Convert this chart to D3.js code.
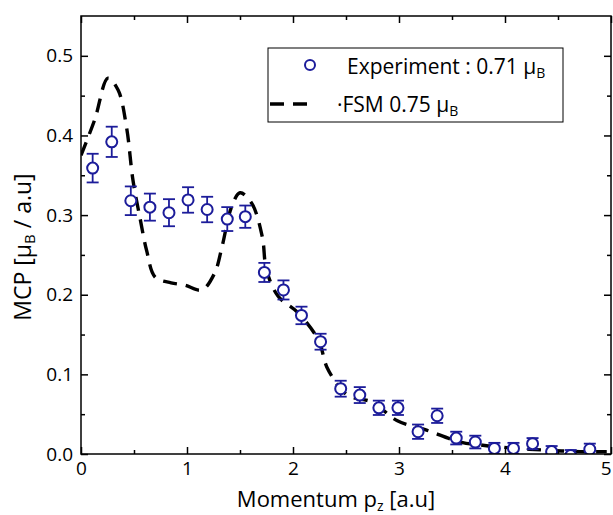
<!DOCTYPE html>
<html><head><meta charset="utf-8">
<script src="https://cdn.jsdelivr.net/npm/d3@7"></script>
<style>body{margin:0;background:#fff}svg{display:block}text{font-family:"Open Sans",sans-serif;fill:#000}</style>
</head><body><svg id="c" width="613" height="515"></svg>
<script>
const expX = [0.11,0.29,0.47,0.65,0.83,1.01,1.19,1.38,1.55,1.73,1.91,2.08,2.26,2.45,2.63,2.81,2.99,3.18,3.36,3.54,3.72,3.90,4.08,4.26,4.44,4.62,4.80];
const expY = [0.359,0.392,0.318,0.310,0.303,0.319,0.307,0.295,0.298,0.228,0.206,0.174,0.141,0.082,0.074,0.058,0.058,0.028,0.048,0.020,0.015,0.007,0.007,0.013,0.003,-0.002,0.006];
const expErr = [0.018,0.019,0.018,0.017,0.017,0.016,0.016,0.015,0.014,0.012,0.012,0.011,0.010,0.010,0.010,0.009,0.009,0.009,0.009,0.008,0.008,0.007,0.007,0.007,0.007,0.007,0.007];
const fsmX = [0.0,0.13,0.255,0.35,0.43,0.49,0.56,0.62,0.70,0.85,0.98,1.14,1.26,1.33,1.42,1.50,1.61,1.71,1.75,1.86,2.05,2.24,2.32,2.45,2.54,2.75,2.98,3.26,3.58,3.79,4.11,4.36,4.71,4.96];
const fsmY = [0.375,0.42,0.472,0.457,0.41,0.344,0.294,0.255,0.222,0.215,0.212,0.206,0.227,0.26,0.31,0.328,0.315,0.273,0.231,0.198,0.177,0.143,0.109,0.082,0.072,0.065,0.042,0.030,0.015,0.011,0.007,0.005,0.003,0.003];
const xTicks = [0,1,2,3,4,5];
const yTicks = [0.0,0.1,0.2,0.3,0.4,0.5];
const xMinor = [0.5,1.5,2.5,3.5,4.5];
const yMinor = [0.05,0.15,0.25,0.35,0.45];

const L=81,R=611,T=16,B=454;
const x=d3.scaleLinear().domain([0,5]).range([L,R]);
const y=d3.scaleLinear().domain([0,0.55]).range([B,T]);
const svg=d3.select("#c");
const blue="#1c1c9a";

const defs=svg.append("defs");
defs.append("clipPath").attr("id","clip").append("rect").attr("x",L).attr("y",T).attr("width",R-L).attr("height",B-T);

// FSM line
svg.append("path").datum(fsmX.map((v,i)=>[v,fsmY[i]]))
  .attr("clip-path","url(#clip)")
  .attr("d",d3.line().x(d=>x(d[0])).y(d=>y(d[1])).curve(d3.curveCatmullRom))
  .attr("fill","none").attr("stroke","#000").attr("stroke-width",3.4).attr("stroke-dasharray","14,9");

// error bars & points
const g=svg.append("g").attr("clip-path","url(#clip)");
expX.forEach((v,i)=>{
  const cx=x(v), y1=y(expY[i]+expErr[i]), y0=y(expY[i]-expErr[i]);
  g.append("line").attr("x1",cx).attr("x2",cx).attr("y1",y1).attr("y2",y0).attr("stroke",blue).attr("stroke-width",1.8);
  [y1,y0].forEach(yy=>g.append("line").attr("x1",cx-6).attr("x2",cx+6).attr("y1",yy).attr("y2",yy).attr("stroke",blue).attr("stroke-width",1.8));
  g.append("circle").attr("cx",cx).attr("cy",y(expY[i])).attr("r",5.5).attr("fill","#fff").attr("stroke",blue).attr("stroke-width",2);
});

// frame
svg.append("rect").attr("x",L).attr("y",T).attr("width",R-L).attr("height",B-T).attr("fill","none").attr("stroke","#000").attr("stroke-width",1.5);

// axes
const fs="19px";
const ax=svg.append("g").attr("transform",`translate(0,${B})`).call(d3.axisBottom(x).tickValues(xTicks).tickFormat(d3.format("d")).tickSizeInner(-7).tickSizeOuter(0).tickPadding(8));
const axm=svg.append("g").attr("transform",`translate(0,${B})`).call(d3.axisBottom(x).tickValues(xMinor).tickFormat("").tickSizeInner(-4).tickSizeOuter(0));
const axt=svg.append("g").attr("transform",`translate(0,${T})`).call(d3.axisTop(x).tickValues(xTicks).tickFormat("").tickSizeInner(-7).tickSizeOuter(0));
const axtm=svg.append("g").attr("transform",`translate(0,${T})`).call(d3.axisTop(x).tickValues(xMinor).tickFormat("").tickSizeInner(-4).tickSizeOuter(0));
const ay=svg.append("g").attr("transform",`translate(${L},0)`).call(d3.axisLeft(y).tickValues(yTicks).tickFormat(d3.format(".1f")).tickSizeInner(-7).tickSizeOuter(0).tickPadding(8));
const aym=svg.append("g").attr("transform",`translate(${L},0)`).call(d3.axisLeft(y).tickValues(yMinor).tickFormat("").tickSizeInner(-4).tickSizeOuter(0));
const ar=svg.append("g").attr("transform",`translate(${R},0)`).call(d3.axisRight(y).tickValues(yTicks).tickFormat("").tickSizeInner(-7).tickSizeOuter(0));
const arm=svg.append("g").attr("transform",`translate(${R},0)`).call(d3.axisRight(y).tickValues(yMinor).tickFormat("").tickSizeInner(-4).tickSizeOuter(0));
[ax,axm,axt,axtm,ay,aym,ar,arm].forEach(a=>{a.select(".domain").remove();a.selectAll("line").attr("stroke","#000").attr("stroke-width",1.5);a.selectAll("text").style("font-size",fs).style("font-family","'Open Sans',sans-serif").attr("fill","#000");});
// keep the last x label inside the picture
ax.selectAll(".tick text").filter(d=>d===5).attr("text-anchor","end").attr("dx","0");

// axis titles
const xt=svg.append("text").attr("x",336).attr("y",507).attr("text-anchor","middle").style("font-size","22px");
xt.append("tspan").text("Momentum p");
xt.append("tspan").attr("dy",4).style("font-size","14px").text("z");
xt.append("tspan").attr("dy",-4).text(" [a.u]");
const yt=svg.append("text").attr("transform","translate(31,247) rotate(-90)").attr("text-anchor","middle").style("font-size","23px");
yt.append("tspan").text("MCP [μ");
yt.append("tspan").attr("dy",4).style("font-size","15px").text("B");
yt.append("tspan").attr("dy",-4).text(" / a.u]");

// legend
svg.append("rect").attr("x",268).attr("y",48).attr("width",295).attr("height",74).attr("fill","#fff").attr("stroke","#000").attr("stroke-width",1);
svg.append("circle").attr("cx",310).attr("cy",65).attr("r",5).attr("fill","#fff").attr("stroke",blue).attr("stroke-width",2);
const l1=svg.append("text").attr("x",347).attr("y",74).style("font-size","21px");
l1.append("tspan").text("Experiment : 0.71 μ");
l1.append("tspan").attr("dy",4).style("font-size","14px").text("B");
svg.append("line").attr("x1",270).attr("x2",314).attr("y1",104).attr("y2",104).attr("stroke","#000").attr("stroke-width",3.4).attr("stroke-dasharray","14,9");
const l2=svg.append("text").attr("x",337).attr("y",112).style("font-size","21px");
l2.append("tspan").text("·FSM 0.75 μ");
l2.append("tspan").attr("dy",4).style("font-size","14px").text("B");
</script></body></html>
